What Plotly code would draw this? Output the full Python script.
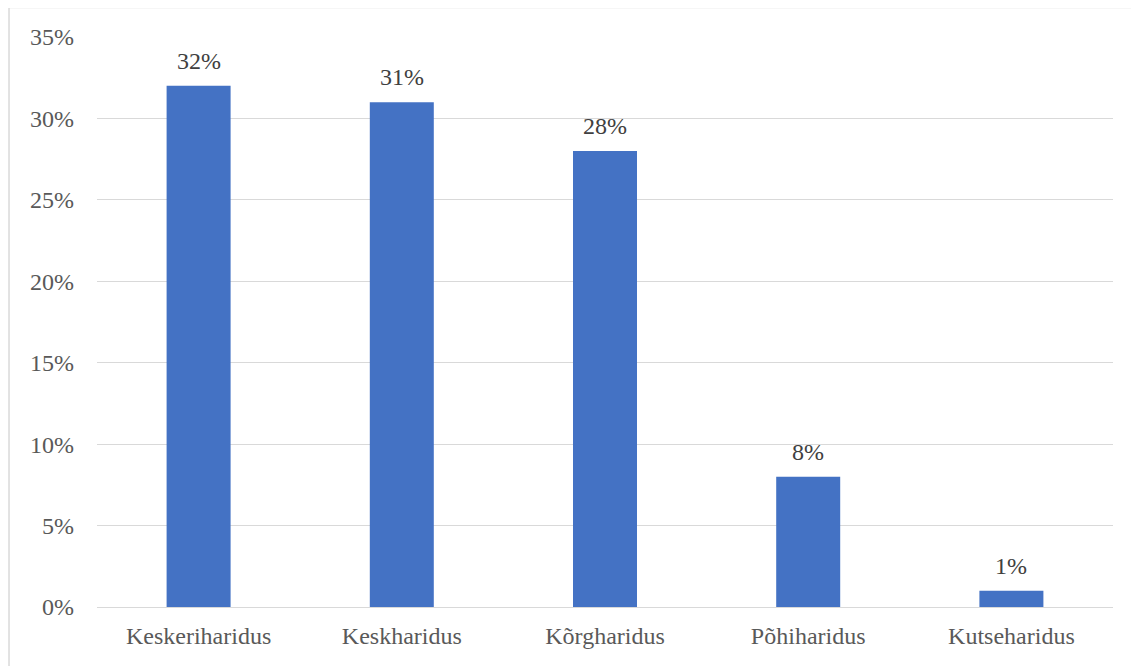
import plotly.graph_objects as go

categories = ["Keskeriharidus", "Keskharidus", "Kõrgharidus", "Põhiharidus", "Kutseharidus"]
values = [0.32, 0.31, 0.28, 0.08, 0.01]
labels = ["32%", "31%", "28%", "8%", "1%"]
tick_vals = [0, 0.05, 0.10, 0.15, 0.20, 0.25, 0.30, 0.35]
tick_text = ["0%", "5%", "10%", "15%", "20%", "25%", "30%", "35%"]

FONT = "'Times New Roman', 'Liberation Serif', 'DejaVu Serif', serif"

fig = go.Figure(go.Bar(
    x=categories, y=values,
    marker=dict(color="#4472C4", line=dict(width=0)),
    cliponaxis=False,
))

annotations = [
    dict(x=c, y=v, xref="x", yref="y", text=t, showarrow=False,
         yanchor="middle", yshift=25,
         font=dict(family=FONT, size=24, color="#404040"))
    for c, v, t in zip(categories, values, labels)
]

fig.update_layout(
    width=1131, height=658,
    margin=dict(l=89, r=26, t=29, b=59),
    paper_bgcolor="white", plot_bgcolor="white",
    bargap=0.685,
    showlegend=False,
    font=dict(family=FONT, size=24, color="#595959"),
    annotations=annotations,
    shapes=[dict(type="rect", xref="paper", yref="paper",
                 x0=-0.0866, y0=-0.2, x1=1.2, y1=1.0518,
                 line=dict(color="#d9d9d9", width=1.5), fillcolor="rgba(0,0,0,0)", layer="below")],
)
fig.update_xaxes(showgrid=False, showline=False, ticks="", zeroline=False,
                 ticklabelstandoff=12,
                 tickfont=dict(family=FONT, size=24, color="#595959"))
fig.update_yaxes(range=[0, 0.35], tickvals=tick_vals, ticktext=tick_text,
                 showgrid=True, gridcolor="#d9d9d9", gridwidth=1.3,
                 zeroline=True, zerolinecolor="#d9d9d9", zerolinewidth=1.3,
                 showline=False, ticks="", ticklabelstandoff=22,
                 tickfont=dict(family=FONT, size=24, color="#595959"))

fig.write_html("out.html")
